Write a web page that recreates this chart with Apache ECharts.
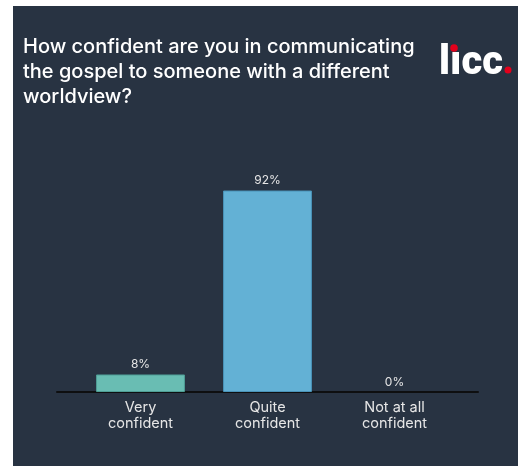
<!DOCTYPE html>
<html>
<head>
<meta charset="utf-8">
<script src="https://cdn.jsdelivr.net/npm/echarts@6/dist/echarts.min.js"></script>
<style>
  html, body { margin: 0; padding: 0; background: #ffffff; width: 518px; height: 466px; overflow: hidden; }
  #chart { position: absolute; left: 13px; top: 6px; width: 505px; height: 460px; background: #283342; }
</style>
</head>
<body>
<div id="chart"></div>
<script>
const titleText = 'How confident are you in communicating\nthe gospel to someone with a different\nworldview?';
const categories = ['Very\nconfident', 'Quite\nconfident', 'Not at all\nconfident'];
const values = [8, 92, 0];
const barColors = ['#69bdb3', '#63b1d5', '#63b1d5'];
const barBorders = ['#4f9e95', '#4a93b8', '#4a93b8'];

const chart = echarts.init(document.getElementById('chart'), null, { renderer: 'canvas' });
chart.setOption({
  backgroundColor: 'transparent',
  animation: false,
  title: {
    text: titleText,
    left: 5,
    top: 23,
    textStyle: { color: '#ffffff', fontFamily: 'Inter', fontSize: 20, fontWeight: 500, lineHeight: 25 }
  },
  graphic: [
    {
      type: 'text',
      left: 426,
      top: 38,
      style: { text: 'lıcc', fill: '#ffffff', font: '900 40px Roboto' }
    },
    {
      type: 'circle',
      shape: { cx: 441, cy: 42, r: 3.8 },
      style: { fill: '#e3001b' }
    },
    {
      type: 'circle',
      shape: { cx: 495, cy: 64, r: 3.5 },
      style: { fill: '#e3001b' }
    }
  ],
  grid: [
    { left: 64, right: 60, top: 167, bottom: 74 },
    { left: 44, right: 40, top: 167, bottom: 74 }
  ],
  xAxis: [
    {
      type: 'category', gridIndex: 0, data: categories,
      axisLine: { show: false }, axisTick: { show: false },
      axisLabel: { color: '#e6e6e6', fontFamily: 'Inter', fontSize: 14.5, lineHeight: 16, margin: 8 }
    },
    {
      type: 'value', gridIndex: 1, min: 0, max: 1,
      axisLine: { show: true, lineStyle: { color: '#0e0f10', width: 2 } },
      axisTick: { show: false }, axisLabel: { show: false }, splitLine: { show: false }
    }
  ],
  yAxis: [
    { type: 'value', gridIndex: 0, min: 0, max: 100, show: false },
    { type: 'value', gridIndex: 1, min: 0, max: 1, show: false }
  ],
  series: [{
    type: 'bar',
    xAxisIndex: 0, yAxisIndex: 0,
    barWidth: '70%',
    data: values.map((v, i) => ({
      value: v,
      itemStyle: { color: barColors[i], borderColor: barBorders[i], borderWidth: v > 0 ? 1 : 0 }
    })),
    label: {
      show: true, position: 'top', distance: 4,
      formatter: '{c}%',
      color: '#e6e6e6', fontFamily: 'Inter', fontSize: 12
    }
  }]
});
</script>
</body>
</html>
